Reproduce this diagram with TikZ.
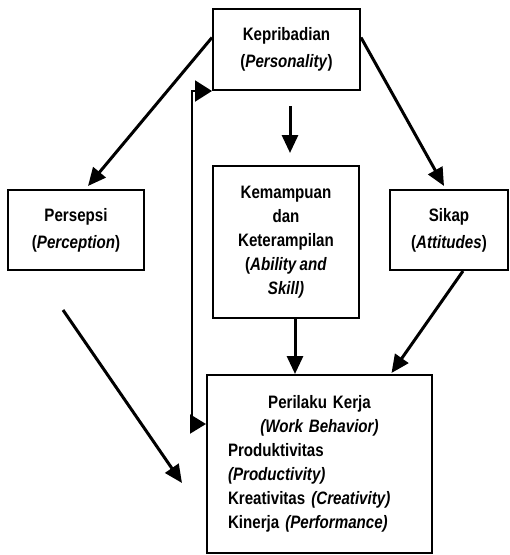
\documentclass[tikz,border=0pt]{standalone}
\usepackage{fontspec}
\setmainfont{Liberation Sans}[FakeStretch=0.84, WordSpace=0.8]
\usetikzlibrary{arrows.meta,calc}

\begin{document}
\begin{tikzpicture}[x=1pt, y=-1pt,
        block/.style={rectangle, draw, line width=2pt, align=center, inner sep=0pt, font=\fontsize{18}{27}\selectfont\bfseries},
        arrow/.style={-{Triangle[length=18pt,width=16pt]}, line width=3pt},
        link/.style={{Triangle[length=17pt,width=21pt]}-{Triangle[length=16pt,width=19pt]}, line width=2pt}]

        \useasboundingbox (0,0) rectangle (510,555);

        \node[block, minimum width=147pt, minimum height=81pt] (kep) at (286.5,49.5) {Kepribadian\\(\textit{Personality})};
        \node[block, minimum width=136pt, minimum height=80pt] (pers) at (76,230) {Persepsi\\(\textit{Perception})};
        \node[block, minimum width=146pt, minimum height=152pt, font=\fontsize{18}{24}\selectfont\bfseries] (kem) at (286,242) {Kemampuan\\dan\\Keterampilan\\(\textit{Ability and}\\\textit{Skill)}};
        \node[block, minimum width=118pt, minimum height=80pt] (sik) at (449,230) {Sikap\\(\textit{Attitudes})};
        \node[block, align=left, text width=183pt, inner xsep=21pt, minimum height=178pt, font=\fontsize{18}{24}\selectfont\bfseries] (beh) at (319.5,464)
            {\makebox[183pt]{Perilaku Kerja}\\\makebox[183pt]{\textit{(Work Behavior)}}\\Produktivitas\\\textit{(Productivity)}\\Kreativitas \textit{(Creativity)}\\Kinerja \textit{(Performance)}};

        \coordinate (kepout) at (290,106);
        \coordinate (kemin) at (290,153);
        \coordinate (persout) at (63,310);
        \coordinate (behin) at (182,483);
        \coordinate (fb) at (192,424);

        \draw[arrow] ([yshift=12pt]kep.west) -- ([xshift=12pt,yshift=3pt]pers.north);
        \draw[arrow] ([yshift=12pt]kep.east) -- ([xshift=-5pt,yshift=3pt]sik.north);
        \draw[arrow] (kepout) -- (kemin);
        \draw[arrow] ([xshift=9pt]kem.south) -- ([xshift=9pt]kem.south |- beh.north);
        \draw[arrow] ([xshift=14pt]sik.south) -- ([xshift=72pt,yshift=1pt]beh.north);
        \draw[arrow] (persout) -- (behin);
        \draw[link] (kep.south west) -| (fb) -- (fb -| beh.west);
    \end{tikzpicture}
\end{document}
